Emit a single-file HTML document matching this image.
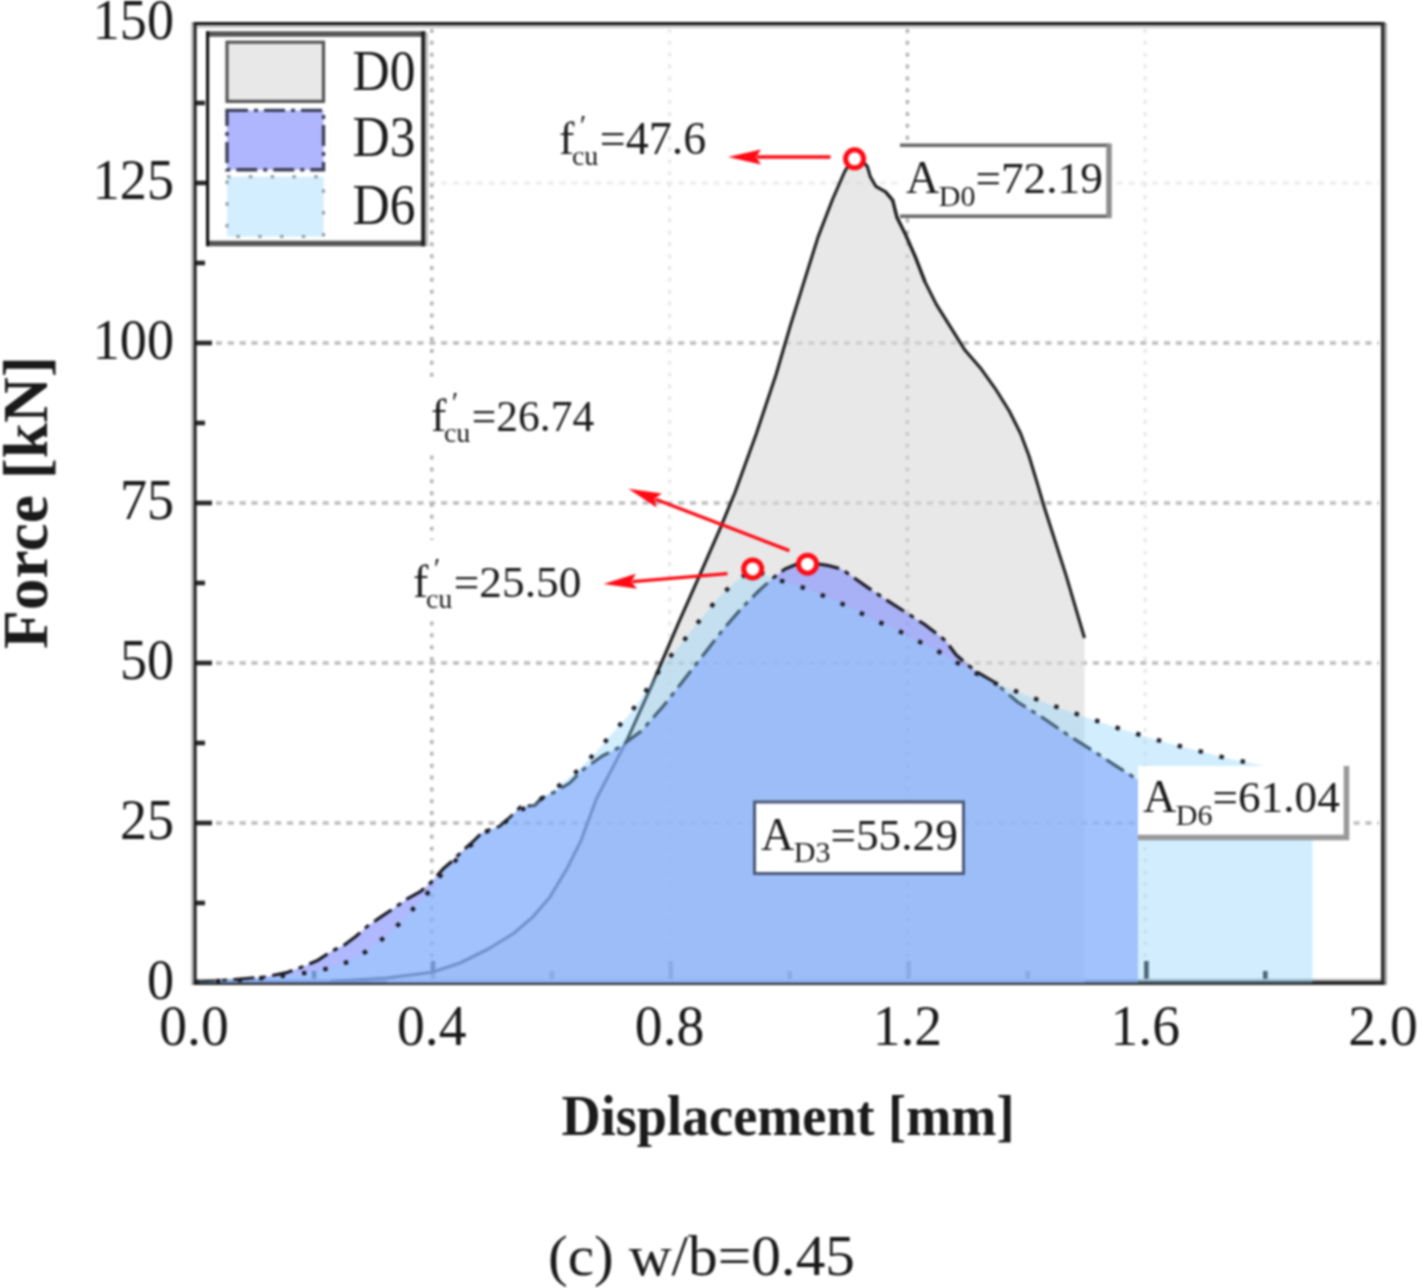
<!DOCTYPE html>
<html lang="en"><head><meta charset="utf-8"><title>Force-displacement w/b=0.45</title>
<style>html,body{margin:0;padding:0;background:#fff}body{width:1422px;height:1288px;overflow:hidden}svg{display:block;filter:blur(0.9px)}text{font-family:"Liberation Serif","Times New Roman",serif;fill:#1a1a1a}.tk{font-size:57px}.an{font-size:46px}.sb{font-size:31px}.b{font-weight:bold}</style></head><body>
<svg width="1422" height="1288" viewBox="0 0 1422 1288">
<rect width="1422" height="1288" fill="#fff"/>
<g fill="none" stroke-width="3.4">
<line x1="216.0" y1="823.0" x2="1379.0" y2="823.0" stroke="#bcbcbc" stroke-dasharray="6 5.85"/>
<line x1="216.0" y1="663.0" x2="1379.0" y2="663.0" stroke="#bcbcbc" stroke-dasharray="6 5.85"/>
<line x1="216.0" y1="503.0" x2="1379.0" y2="503.0" stroke="#bcbcbc" stroke-dasharray="6 5.85"/>
<line x1="216.0" y1="343.0" x2="1379.0" y2="343.0" stroke="#bcbcbc" stroke-dasharray="6 5.85"/>
<line x1="216.0" y1="183.0" x2="1379.0" y2="183.0" stroke="#eeeeee" stroke-dasharray="6 5.85"/>
<line x1="431.8" y1="29.0" x2="431.8" y2="979.0" stroke="#b4b4b4" stroke-dasharray="4 7.85"/>
<line x1="669.6" y1="29.0" x2="669.6" y2="979.0" stroke="#eaeaea" stroke-dasharray="4 7.85"/>
<line x1="907.4" y1="29.0" x2="907.4" y2="979.0" stroke="#b4b4b4" stroke-dasharray="4 7.85"/>
<line x1="1145.2" y1="29.0" x2="1145.2" y2="979.0" stroke="#eaeaea" stroke-dasharray="4 7.85"/>
</g>
<g stroke="#262626" stroke-width="4.6" fill="none">
<line x1="194.0" y1="903.0" x2="205.0" y2="903.0"/>
<line x1="194.0" y1="823.0" x2="212.0" y2="823.0"/>
<line x1="194.0" y1="743.0" x2="205.0" y2="743.0"/>
<line x1="194.0" y1="663.0" x2="212.0" y2="663.0"/>
<line x1="194.0" y1="583.0" x2="205.0" y2="583.0"/>
<line x1="194.0" y1="503.0" x2="212.0" y2="503.0"/>
<line x1="194.0" y1="423.0" x2="205.0" y2="423.0"/>
<line x1="194.0" y1="343.0" x2="212.0" y2="343.0"/>
<line x1="194.0" y1="263.0" x2="205.0" y2="263.0"/>
<line x1="194.0" y1="183.0" x2="212.0" y2="183.0"/>
<line x1="194.0" y1="103.0" x2="205.0" y2="103.0"/>
<line x1="314.1" y1="983.0" x2="314.1" y2="971.0"/>
<line x1="433.0" y1="983.0" x2="433.0" y2="961.0"/>
<line x1="551.9" y1="983.0" x2="551.9" y2="971.0"/>
<line x1="670.8" y1="983.0" x2="670.8" y2="961.0"/>
<line x1="789.7" y1="983.0" x2="789.7" y2="971.0"/>
<line x1="908.6" y1="983.0" x2="908.6" y2="961.0"/>
<line x1="1027.5" y1="983.0" x2="1027.5" y2="971.0"/>
<line x1="1146.4" y1="983.0" x2="1146.4" y2="961.0"/>
<line x1="1265.3" y1="983.0" x2="1265.3" y2="971.0"/>
</g>
<path d="M192.3 21.9V985" stroke="#bdbdbd" stroke-width="2.6" fill="none"/>
<path d="M1385.75 23V985" stroke="#a4a4a4" stroke-width="2.5" fill="none"/>
<path d="M196.6 26.4H1381" stroke="#c4c4c4" stroke-width="3" fill="none"/>
<path d="M196.6 979.85H1381" stroke="#bcbcbc" stroke-width="2.3" fill="none"/>
<path d="M193.6 23.4H1384.5" stroke="#141414" stroke-width="3" fill="none"/>
<path d="M195.1 21.9V985" stroke="#1c1c1c" stroke-width="3" fill="none"/>
<path d="M1382.75 21.9V985" stroke="#2d2d2d" stroke-width="3.5" fill="none"/>
<path d="M193.6 983H1384.5" stroke="#2a2a2a" stroke-width="4" fill="none"/>
<rect x="424" y="380" width="176" height="74" fill="#fff"/>
<rect x="406" y="540" width="180" height="78" fill="#fff"/>
<polygon points="386.9,978.0 431.9,972.3 460.0,963.0 488.2,949.0 513.5,933.5 533.2,916.6 550.0,896.9 566.9,868.8 581.0,840.6 596.6,798.2 627.5,739.1 652.8,682.8 678.1,623.8 700.6,573.1 720.3,528.1 735.2,492.0 756.3,433.8 776.0,374.7 790.0,326.9 804.0,281.9 818.1,236.9 832.3,200.0 844.7,171.5 850.5,162.0 854.7,159.0 862.0,160.5 867.4,166.6 870.2,176.4 875.8,186.3 885.7,191.9 892.7,200.3 896.9,217.2 905.3,234.1 915.2,256.6 925.0,281.9 936.3,304.4 950.4,326.9 964.4,349.4 981.3,369.1 995.4,388.8 1009.4,411.3 1020.7,433.8 1029.1,456.3 1037.6,484.4 1043.5,504.7 1066.2,575.9 1084.5,638.0 1084.5,983.0 386.9,983.0" fill="rgba(217,217,217,0.6)"/>
<polyline points="330.0,981.5 386.9,978.0 431.9,972.3 460.0,963.0 488.2,949.0 513.5,933.5 533.2,916.6 550.0,896.9 566.9,868.8 581.0,840.6 596.6,798.2 627.5,739.1 652.8,682.8 678.1,623.8 700.6,573.1 720.3,528.1 735.2,492.0 756.3,433.8 776.0,374.7 790.0,326.9 804.0,281.9 818.1,236.9 832.3,200.0 844.7,171.5 850.5,162.0 854.7,159.0 862.0,160.5 867.4,166.6 870.2,176.4 875.8,186.3 885.7,191.9 892.7,200.3 896.9,217.2 905.3,234.1 915.2,256.6 925.0,281.9 936.3,304.4 950.4,326.9 964.4,349.4 981.3,369.1 995.4,388.8 1009.4,411.3 1020.7,433.8 1029.1,456.3 1037.6,484.4 1043.5,504.7 1066.2,575.9 1084.5,638.0" fill="none" stroke="#1e1e1e" stroke-width="3.1" stroke-linejoin="round"/>
<rect x="900" y="145" width="209" height="71" fill="#fff"/>
<path d="M900 145.3H1109M900 216.3H1109" stroke="#666" stroke-width="3.6" fill="none"/>
<path d="M1109 143.5V218.2" stroke="#8c8c8c" stroke-width="5.5" fill="none"/>
<polyline points="885.7,191.9 892.7,200.3 896.9,217.2 905.3,234.1 915.2,256.6 925.0,281.9" fill="none" stroke="#1e1e1e" stroke-width="3.1" stroke-linejoin="round"/>
<polygon points="194.5,982.0 215.0,981.0 237.8,979.3 264.5,977.0 285.6,972.9 305.3,965.8 318.0,960.2 330.6,951.8 344.7,944.7 356.0,936.3 367.2,926.4 381.3,916.6 393.9,908.2 408.0,898.3 420.7,891.3 430.5,882.8 443.2,868.8 453.0,860.3 462.9,850.5 474.1,840.6 482.5,832.2 499.4,826.6 510.7,816.7 520.5,806.9 534.6,805.5 541.6,798.5 555.7,791.4 569.7,783.0 582.5,770.0 602.2,756.0 619.0,747.5 641.6,730.7 664.0,705.3 683.8,680.0 703.5,654.7 723.1,629.4 742.8,606.9 759.7,590.0 773.8,577.4 785.0,568.9 799.0,563.3 807.5,562.4 827.2,565.3 841.3,568.9 855.4,578.8 869.4,588.6 886.3,599.9 906.0,612.5 925.7,625.2 945.4,640.6 956.2,655.0 975.6,671.3 995.0,682.6 1017.6,702.0 1043.5,718.2 1069.4,736.0 1095.3,752.2 1114.7,765.1 1138.0,780.0 1138.0,983.0 194.5,983.0" fill="rgba(133,146,253,0.65)"/>
<polyline points="194.5,982.0 215.0,981.0 237.8,979.3 264.5,977.0 285.6,972.9 305.3,965.8 318.0,960.2 330.6,951.8 344.7,944.7 356.0,936.3 367.2,926.4 381.3,916.6 393.9,908.2 408.0,898.3 420.7,891.3 430.5,882.8 443.2,868.8 453.0,860.3 462.9,850.5 474.1,840.6 482.5,832.2 499.4,826.6 510.7,816.7 520.5,806.9 534.6,805.5 541.6,798.5 555.7,791.4 569.7,783.0 582.5,770.0 602.2,756.0 619.0,747.5 641.6,730.7 664.0,705.3 683.8,680.0 703.5,654.7 723.1,629.4 742.8,606.9 759.7,590.0 773.8,577.4 785.0,568.9 799.0,563.3 807.5,562.4 827.2,565.3 841.3,568.9 855.4,578.8 869.4,588.6 886.3,599.9 906.0,612.5 925.7,625.2 945.4,640.6 956.2,655.0 975.6,671.3 995.0,682.6 1017.6,702.0 1043.5,718.2 1069.4,736.0 1095.3,752.2 1114.7,765.1 1138.0,780.0" fill="none" stroke="#1c1c24" stroke-width="3.2" stroke-dasharray="21 6.5 5 6.5" stroke-linejoin="round"/>
<polygon points="194.5,982.0 240.0,980.0 274.4,977.0 306.7,972.9 327.8,968.6 348.9,961.6 366.7,951.2 384.1,937.7 401.0,922.2 415.0,906.8 430.5,889.9 443.0,872.0 455.0,861.0 470.0,846.0 485.0,832.0 500.0,827.0 515.0,813.0 535.0,803.0 555.0,789.0 575.0,773.0 596.6,751.8 612.0,733.5 627.5,716.6 640.2,699.7 664.0,663.1 679.5,646.3 692.2,629.4 706.3,612.5 720.3,595.6 735.8,581.6 752.7,568.9 773.8,578.8 794.9,584.4 816.0,592.8 835.7,600.7 856.8,611.1 876.5,621.0 897.6,630.2 917.2,640.6 936.9,650.5 955.2,661.7 993.4,682.6 1014.4,690.7 1035.4,698.8 1056.5,706.9 1077.5,714.3 1098.5,721.4 1119.5,728.6 1140.6,735.0 1162.6,741.5 1184.2,747.3 1205.9,752.8 1227.9,758.6 1249.6,762.8 1312.5,777.0 1312.5,983.0 194.5,983.0" fill="rgba(137,210,252,0.38)"/>
<polyline points="194.5,982.0 240.0,980.0 274.4,977.0 306.7,972.9 327.8,968.6 348.9,961.6 366.7,951.2 384.1,937.7 401.0,922.2 415.0,906.8 430.5,889.9 443.0,872.0 455.0,861.0 470.0,846.0 485.0,832.0 500.0,827.0 515.0,813.0 535.0,803.0 555.0,789.0 575.0,773.0 596.6,751.8 612.0,733.5 627.5,716.6 640.2,699.7 664.0,663.1 679.5,646.3 692.2,629.4 706.3,612.5 720.3,595.6 735.8,581.6 752.7,568.9 773.8,578.8 794.9,584.4 816.0,592.8 835.7,600.7 856.8,611.1 876.5,621.0 897.6,630.2 917.2,640.6 936.9,650.5 955.2,661.7 993.4,682.6 1014.4,690.7 1035.4,698.8 1056.5,706.9 1077.5,714.3 1098.5,721.4 1119.5,728.6 1140.6,735.0 1162.6,741.5 1184.2,747.3 1205.9,752.8 1227.9,758.6 1249.6,762.8" fill="none" stroke="#1c1c24" stroke-width="4.3" stroke-dasharray="4.3 17.3" stroke-linejoin="round"/>
<rect x="754.5" y="802" width="209" height="71.5" fill="#fff" stroke="#4a5878" stroke-width="3"/>
<rect x="1138" y="766" width="206" height="69" fill="#fff"/>
<path d="M1346.5 766V840M1138 837.5H1349" stroke="#999" stroke-width="5.5" fill="none"/>
<text class="an" x="906" y="193" font-size="46">A<tspan font-size="30" dy="12.5" dx="-0.5">D0</tspan><tspan dy="-12.5" font-size="45.3">=72.19</tspan></text>
<text class="an" x="761" y="849.5" font-size="46">A<tspan font-size="30" dy="12.5" dx="-0.5">D3</tspan><tspan dy="-12.5" font-size="45.3">=55.29</tspan></text>
<text class="an" x="1143" y="812" font-size="46">A<tspan font-size="30" dy="12.5" dx="-0.5">D6</tspan><tspan dy="-12.5" font-size="45.3">=61.04</tspan></text>
<text class="an" x="559" y="154" font-size="46">f<tspan font-size="30" dy="-19" dx="5.5">′</tspan><tspan font-size="28" dy="30" dx="-14.5">cu</tspan><tspan dy="-11" dx="1.5" font-size="46.0">=47.6</tspan></text>
<text class="an" x="431" y="431" font-size="46">f<tspan font-size="30" dy="-19" dx="5.5">′</tspan><tspan font-size="28" dy="30" dx="-14.5">cu</tspan><tspan dy="-11" dx="1.5" font-size="43.5">=26.74</tspan></text>
<text class="an" x="413" y="596.5" font-size="46">f<tspan font-size="30" dy="-19" dx="5.5">′</tspan><tspan font-size="28" dy="30" dx="-14.5">cu</tspan><tspan dy="-11" dx="1.5" font-size="45.3">=25.50</tspan></text>
<line x1="830.5" y1="157.0" x2="757.0" y2="157.0" stroke="#ff0a14" stroke-width="3.3"/>
<polygon points="728.0,157.0 761.0,149.5 756.0,157.0 761.0,164.5" fill="#ff0a14"/>
<line x1="789.3" y1="550.6" x2="655.5" y2="499.2" stroke="#ff0a14" stroke-width="3.3"/>
<polygon points="628.4,488.8 661.9,493.6 654.5,498.8 656.5,507.6" fill="#ff0a14"/>
<line x1="727.5" y1="573.7" x2="632.4" y2="581.6" stroke="#ff0a14" stroke-width="3.3"/>
<polygon points="603.5,584.0 635.8,573.8 631.4,581.7 637.0,588.7" fill="#ff0a14"/>
<circle cx="854.6" cy="158.8" r="9" fill="#fff" stroke="#ff0a14" stroke-width="5"/>
<circle cx="807.5" cy="564.2" r="9" fill="#fff" stroke="#ff0a14" stroke-width="5"/>
<circle cx="752.7" cy="568.9" r="9" fill="#fff" stroke="#ff0a14" stroke-width="5"/>
<rect x="207.5" y="34" width="216" height="209.5" fill="#fff"/>
<path d="M206 34H425.4M206 243.5H425.4" stroke="#555" stroke-width="5.5" fill="none"/>
<path d="M207.6 31.2V246.2" stroke="#111" stroke-width="3.2" fill="none"/>
<path d="M423.3 31.2V246.2" stroke="#222" stroke-width="4.2" fill="none"/>
<path d="M426.8 33V246.2" stroke="#bbb" stroke-width="2.5" fill="none"/>
<rect x="227" y="42.2" width="96.5" height="59.2" fill="#e8e8e8" stroke="#555" stroke-width="3.2"/>
<rect x="227" y="110.4" width="96.5" height="59.3" fill="#b0b6fd" stroke="#3c3f58" stroke-width="3.4" stroke-dasharray="21 6 4 6"/>
<rect x="227" y="176.8" width="96.5" height="59.7" fill="#d3eefe" stroke="#8e9ca6" stroke-width="3" stroke-dasharray="3.5 18.3"/>
<text class="tk" x="352.5" y="89.5" textLength="63" lengthAdjust="spacingAndGlyphs">D0</text>
<text class="tk" x="352.5" y="156" textLength="63" lengthAdjust="spacingAndGlyphs">D3</text>
<text class="tk" x="352.5" y="224" textLength="63" lengthAdjust="spacingAndGlyphs">D6</text>
<text class="tk" x="174" y="999.1" text-anchor="end" textLength="27.1" lengthAdjust="spacingAndGlyphs">0</text>
<text class="tk" x="174" y="839.1" text-anchor="end" textLength="54.1" lengthAdjust="spacingAndGlyphs">25</text>
<text class="tk" x="174" y="679.1" text-anchor="end" textLength="54.1" lengthAdjust="spacingAndGlyphs">50</text>
<text class="tk" x="174" y="519.1" text-anchor="end" textLength="54.1" lengthAdjust="spacingAndGlyphs">75</text>
<text class="tk" x="174" y="359.1" text-anchor="end" textLength="81.2" lengthAdjust="spacingAndGlyphs">100</text>
<text class="tk" x="174" y="199.1" text-anchor="end" textLength="81.2" lengthAdjust="spacingAndGlyphs">125</text>
<text class="tk" x="174" y="39.1" text-anchor="end" textLength="81.2" lengthAdjust="spacingAndGlyphs">150</text>
<text class="tk" x="194.0" y="1044.6" text-anchor="middle" textLength="69.5" lengthAdjust="spacingAndGlyphs">0.0</text>
<text class="tk" x="431.8" y="1044.6" text-anchor="middle" textLength="69.5" lengthAdjust="spacingAndGlyphs">0.4</text>
<text class="tk" x="669.6" y="1044.6" text-anchor="middle" textLength="69.5" lengthAdjust="spacingAndGlyphs">0.8</text>
<text class="tk" x="907.4" y="1044.6" text-anchor="middle" textLength="69.5" lengthAdjust="spacingAndGlyphs">1.2</text>
<text class="tk" x="1145.2" y="1044.6" text-anchor="middle" textLength="69.5" lengthAdjust="spacingAndGlyphs">1.6</text>
<text class="tk" x="1383.0" y="1044.6" text-anchor="middle" textLength="69.5" lengthAdjust="spacingAndGlyphs">2.0</text>
<text class="b" x="788" y="1135" font-size="56" text-anchor="middle" textLength="453" lengthAdjust="spacingAndGlyphs">Displacement [mm]</text>
<text class="b" transform="translate(46.5,502.5) rotate(-90)" font-size="64" text-anchor="middle" textLength="293" lengthAdjust="spacingAndGlyphs">Force [kN]</text>
<text x="548" y="1274.5" font-size="56" textLength="307" lengthAdjust="spacingAndGlyphs">(c) w/b=0.45</text>
</svg></body></html>
